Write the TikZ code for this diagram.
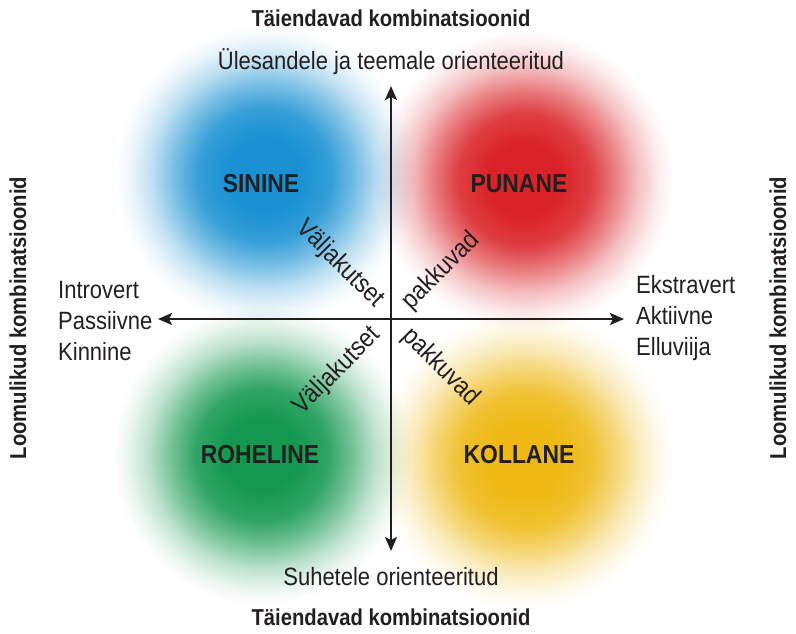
\documentclass[tikz,border=0pt]{standalone}
\usepackage{fontspec}
\setmainfont{Liberation Sans}[FakeStretch=0.88]
\usetikzlibrary{arrows.meta}
\definecolor{ink}{RGB}{35,31,32}
\definecolor{sinine}{RGB}{25,145,210}
\definecolor{punane}{RGB}{218,35,40}
\definecolor{roheline}{RGB}{20,152,80}
\definecolor{kollane}{RGB}{238,185,20}
\colorlet{blobc}{white}
\pgfdeclareradialshading[blobc]{blob}{\pgfpoint{0bp}{0bp}}{color(0bp)=(blobc);
  color(6bp)=(blobc); color(11bp)=(blobc!88!white); color(15bp)=(blobc!60!white);
  color(19bp)=(blobc!28!white); color(22.5bp)=(blobc!8!white); color(25bp)=(white);
  color(50bp)=(white)}
\tikzset{
  >={Stealth[length=14pt,width=12pt,inset=3pt]},
  axis/.style={->,line width=2.4pt,draw=ink},
  title/.style={font=\fontsize{23}{27}\selectfont\bfseries,text=ink,inner sep=0pt},
  pole/.style={font=\fontsize{25}{31}\selectfont,text=ink,align=left,inner sep=0pt},
  colour/.style={font=\fontsize{26}{30}\selectfont\bfseries,text=ink},
  diag/.style={font=\fontsize{26}{30}\selectfont,text=ink,inner sep=0pt},
}

\begin{document}
\begin{tikzpicture}[x=1pt,y=-1pt]
    \useasboundingbox (0,0) rectangle (796,633);
    \fill[white] (0,0) rectangle (796,633);
    % colour clouds
    \begin{scope}[blend mode=multiply]
      \foreach \c/\px/\py in {sinine/265/175,punane/524/180,roheline/262/455,kollane/525/460}{
        \colorlet{blobc}{\c}
        \shade[shading=blob] (\px,\py) circle (150);
      }
    \end{scope}
    % axes
    \coordinate (c) at (391,319);
    \coordinate (top) at (391,86);
    \coordinate (bot) at (391,551);
    \coordinate (lft) at (158,319);
    \coordinate (rgt) at (624,319);
    \foreach \e in {top,bot,lft,rgt} \draw[axis] (c) -- (\e);
    % titles
    \node[title] (toptitle) at (391,18) {Täiendavad kombinatsioonid};
    \node[title] (bottitle) at (391,617) {Täiendavad kombinatsioonid};
    \node[title,rotate=90] (lefttitle) at (18,318) {Loomulikud kombinatsioonid};
    \node[title,rotate=90] (righttitle) at (778,318) {Loomulikud kombinatsioonid};
    % poles
    \node[pole] (task) at (391,62) {Ülesandele ja teemale orienteeritud};
    \node[pole] (rel) at (391,577) {Suhetele orienteeritud};
    \node[pole,anchor=west] (intro) at (58,321) {Introvert\\Passiivne\\Kinnine};
    \node[pole,anchor=west] (extra) at (636,318) {Ekstravert\\Aktiivne\\Elluviija};
    % colours
    \foreach \t/\px/\py in {SININE/261/184,PUNANE/519/184,ROHELINE/260/455,KOLLANE/519/455}
      \node[colour] (\t) at (\px,\py) {\t};
    % diagonals
    \node[diag,rotate=-45] (vUL) at (340,264) {Väljakutset};
    \node[diag,rotate=45] (pUR) at (441,271) {pakkuvad};
    \node[diag,rotate=45] (vLL) at (337,371) {Väljakutset};
    \node[diag,rotate=-45] (pLR) at (441,367) {pakkuvad};
\end{tikzpicture}
\end{document}
